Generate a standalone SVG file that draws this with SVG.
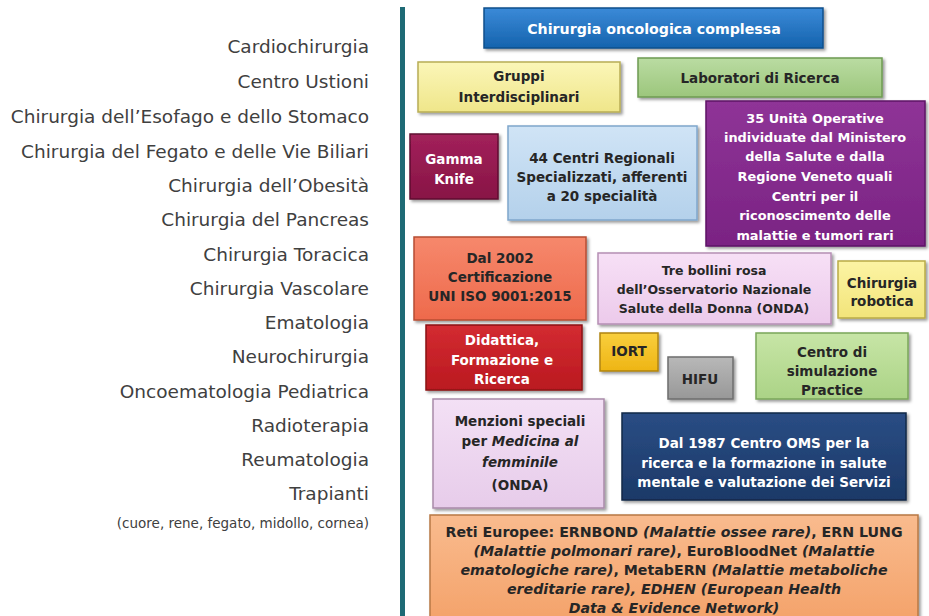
<svg xmlns="http://www.w3.org/2000/svg" width="929" height="616" viewBox="0 0 929 616">
<defs>
<filter id="sh" x="-10%" y="-10%" width="125%" height="135%"><feDropShadow dx="2" dy="2" stdDeviation="1.4" flood-color="#000" flood-opacity="0.4"/></filter>
<linearGradient id="gBlue" x1="0" y1="0" x2="0" y2="1"><stop offset="0" stop-color="#3b8ad8"/><stop offset="1" stop-color="#1563ad"/></linearGradient>
<linearGradient id="gYel" x1="0" y1="0" x2="0" y2="1"><stop offset="0" stop-color="#fbf6b8"/><stop offset="1" stop-color="#efe68a"/></linearGradient>
<linearGradient id="gGrn" x1="0" y1="0" x2="0" y2="1"><stop offset="0" stop-color="#badca2"/><stop offset="1" stop-color="#9cc67c"/></linearGradient>
<linearGradient id="gPur" x1="0" y1="0" x2="0" y2="1"><stop offset="0" stop-color="#8f3497"/><stop offset="1" stop-color="#7a2383"/></linearGradient>
<linearGradient id="gMar" x1="0" y1="0" x2="0" y2="1"><stop offset="0" stop-color="#a2215b"/><stop offset="1" stop-color="#881545"/></linearGradient>
<linearGradient id="gLbl" x1="0" y1="0" x2="0" y2="1"><stop offset="0" stop-color="#d0e4f6"/><stop offset="1" stop-color="#b4d1eb"/></linearGradient>
<linearGradient id="gCor" x1="0" y1="0" x2="0" y2="1"><stop offset="0" stop-color="#f6886c"/><stop offset="1" stop-color="#ee6a4c"/></linearGradient>
<linearGradient id="gPnk" x1="0" y1="0" x2="0" y2="1"><stop offset="0" stop-color="#f7e0f6"/><stop offset="1" stop-color="#eccaeb"/></linearGradient>
<linearGradient id="gYel2" x1="0" y1="0" x2="0" y2="1"><stop offset="0" stop-color="#fcf4a4"/><stop offset="1" stop-color="#f2e47a"/></linearGradient>
<linearGradient id="gRed" x1="0" y1="0" x2="0" y2="1"><stop offset="0" stop-color="#d32b31"/><stop offset="1" stop-color="#ba1920"/></linearGradient>
<linearGradient id="gGold" x1="0" y1="0" x2="0" y2="1"><stop offset="0" stop-color="#f9cf3d"/><stop offset="1" stop-color="#eeb515"/></linearGradient>
<linearGradient id="gGry" x1="0" y1="0" x2="0" y2="1"><stop offset="0" stop-color="#b8b8b8"/><stop offset="1" stop-color="#989898"/></linearGradient>
<linearGradient id="gGrn2" x1="0" y1="0" x2="0" y2="1"><stop offset="0" stop-color="#c7e5a6"/><stop offset="1" stop-color="#abd386"/></linearGradient>
<linearGradient id="gLil" x1="0" y1="0" x2="0" y2="1"><stop offset="0" stop-color="#f3e0f5"/><stop offset="1" stop-color="#e7ccea"/></linearGradient>
<linearGradient id="gNav" x1="0" y1="0" x2="0" y2="1"><stop offset="0" stop-color="#2a4d84"/><stop offset="1" stop-color="#1c3968"/></linearGradient>
<linearGradient id="gOra" x1="0" y1="0" x2="0" y2="1"><stop offset="0" stop-color="#f9bb8e"/><stop offset="1" stop-color="#f4a36b"/></linearGradient>
</defs>
<style>
.list{font-family:"DejaVu Sans","Liberation Sans",sans-serif;font-size:18.5px;fill:#404040;text-anchor:end}
.small{font-size:13.5px}
.box{filter:url(#sh);stroke-width:1.5}
.t{font-family:"DejaVu Sans","Liberation Sans",sans-serif;font-size:13.5px;font-weight:bold;text-anchor:middle;fill:#262626}
.w{fill:#ffffff}
.it{font-style:italic}
.sm{font-size:12.5px}
.lg{font-size:14.2px}
.pu{font-size:12.9px}
</style>
<rect width="929" height="616" fill="#ffffff"/>
<g id="list">
<text class="list" x="369" y="53">Cardiochirurgia</text>
<text class="list" x="369" y="88">Centro Ustioni</text>
<text class="list" x="369" y="123">Chirurgia dell’Esofago e dello Stomaco</text>
<text class="list" x="369" y="158">Chirurgia del Fegato e delle Vie Biliari</text>
<text class="list" x="369" y="192">Chirurgia dell’Obesità</text>
<text class="list" x="369" y="226">Chirurgia del Pancreas</text>
<text class="list" x="369" y="261">Chirurgia Toracica</text>
<text class="list" x="369" y="295">Chirurgia Vascolare</text>
<text class="list" x="369" y="329">Ematologia</text>
<text class="list" x="369" y="363">Neurochirurgia</text>
<text class="list" x="369" y="398">Oncoematologia Pediatrica</text>
<text class="list" x="369" y="432">Radioterapia</text>
<text class="list" x="369" y="466">Reumatologia</text>
<text class="list" x="369" y="500">Trapianti</text>
<text class="list small" x="369" y="528">(cuore, rene, fegato, midollo, cornea)</text>
</g>
<g id="connectors">
<line x1="402.5" y1="7" x2="402.5" y2="616" stroke="#1e6a75" stroke-width="5"/>
</g>
<g id="n1"><rect class="box" x="484" y="8" width="339" height="40" fill="url(#gBlue)" stroke="#0f4f8c"/><text class="t w lg" x="654" y="34">Chirurgia oncologica complessa</text></g>
<g id="n2"><rect class="box" x="418" y="62" width="202" height="50" fill="url(#gYel)" stroke="#b8ad55"/><text class="t" x="519" y="81">Gruppi</text><text class="t" x="519" y="102">Interdisciplinari</text></g>
<g id="n3"><rect class="box" x="638" y="58" width="244" height="39" fill="url(#gGrn)" stroke="#6e9a52"/><text class="t" x="760" y="83">Laboratori di Ricerca</text></g>
<g id="n4"><rect class="box" x="706" y="101" width="219" height="145" fill="url(#gPur)" stroke="#5e1666"/>
<text class="t w pu" x="815" y="123">35 Unità Operative</text><text class="t w pu" x="815" y="142">individuate dal Ministero</text><text class="t w pu" x="815" y="161">della Salute e dalla</text><text class="t w pu" x="815" y="181">Regione Veneto quali</text><text class="t w pu" x="815" y="201">Centri per il</text><text class="t w pu" x="815" y="220">riconoscimento delle</text><text class="t w pu" x="815" y="240">malattie e tumori rari</text></g>
<g id="n5"><rect class="box" x="410" y="134" width="88" height="65" fill="url(#gMar)" stroke="#5f0e30"/><text class="t w" x="454" y="164">Gamma</text><text class="t w" x="454" y="184">Knife</text></g>
<g id="n6"><rect class="box" x="508" y="126" width="189" height="94" fill="url(#gLbl)" stroke="#7fa6cc"/><text class="t" x="602" y="163">44 Centri Regionali</text><text class="t" x="602" y="182">Specializzati, afferenti</text><text class="t" x="602" y="201">a 20 specialità</text></g>
<g id="n7"><rect class="box" x="414" y="237" width="172" height="83" fill="url(#gCor)" stroke="#b74c33"/><text class="t" x="500" y="263">Dal 2002</text><text class="t" x="500" y="282">Certificazione</text><text class="t" x="500" y="301">UNI ISO 9001:2015</text></g>
<g id="n8"><rect class="box" x="598" y="253" width="233" height="71" fill="url(#gPnk)" stroke="#b58fb4"/><text class="t sm" x="714" y="275">Tre bollini rosa</text><text class="t sm" x="714" y="294">dell’Osservatorio Nazionale</text><text class="t sm" x="714" y="313">Salute della Donna (ONDA)</text></g>
<g id="n9"><rect class="box" x="838" y="261" width="87" height="57" fill="url(#gYel2)" stroke="#b9ab46"/><text class="t" x="882" y="288">Chirurgia</text><text class="t" x="882" y="306">robotica</text></g>
<g id="n10"><rect class="box" x="426" y="325" width="156" height="65" fill="url(#gRed)" stroke="#8a1015"/><text class="t w" x="502" y="345">Didattica,</text><text class="t w" x="502" y="365">Formazione e</text><text class="t w" x="502" y="384">Ricerca</text></g>
<g id="n11"><rect class="box" x="600" y="333" width="58" height="38" fill="url(#gGold)" stroke="#b08410"/><text class="t" x="629" y="356">IORT</text></g>
<g id="n12"><rect class="box" x="668" y="357" width="65" height="42" fill="url(#gGry)" stroke="#6e6e6e"/><text class="t" x="700" y="384">HIFU</text></g>
<g id="n13"><rect class="box" x="756" y="333" width="152" height="66" fill="url(#gGrn2)" stroke="#7aa65a"/><text class="t" x="832" y="357">Centro di</text><text class="t" x="832" y="376">simulazione</text><text class="t" x="832" y="395">Practice</text></g>
<g id="n14"><rect class="box" x="433" y="399" width="171" height="109" fill="url(#gLil)" stroke="#a98aa9"/><text class="t" x="520" y="426">Menzioni speciali</text><text class="t" x="520" y="446">per <tspan class="it">Medicina al</tspan></text><text class="t it" x="520" y="467">femminile</text><text class="t" x="520" y="490">(ONDA)</text></g>
<g id="n15"><rect class="box" x="622" y="413" width="284" height="87" fill="url(#gNav)" stroke="#122848"/><text class="t w" x="764" y="448">Dal 1987 Centro OMS per la</text><text class="t w" x="764" y="468">ricerca e la formazione in salute</text><text class="t w" x="764" y="487">mentale e valutazione dei Servizi</text></g>
<g id="n16"><rect class="box" x="430" y="515" width="488" height="104" fill="url(#gOra)" stroke="#b87845"/>
<text class="t lg" x="674" y="537">Reti Europee: ERNBOND <tspan class="it">(Malattie ossee rare)</tspan>, ERN LUNG</text>
<text class="t lg" x="674" y="556"><tspan class="it">(Malattie polmonari rare)</tspan>, EuroBloodNet <tspan class="it">(Malattie</tspan></text>
<text class="t lg" x="674" y="575"><tspan class="it">ematologiche rare)</tspan>, MetabERN <tspan class="it">(Malattie metaboliche</tspan></text>
<text class="t it lg" x="674" y="594">ereditarie rare), EDHEN (European Health</text>
<text class="t it lg" x="674" y="613">Data &amp; Evidence Network)</text></g>
</svg>
